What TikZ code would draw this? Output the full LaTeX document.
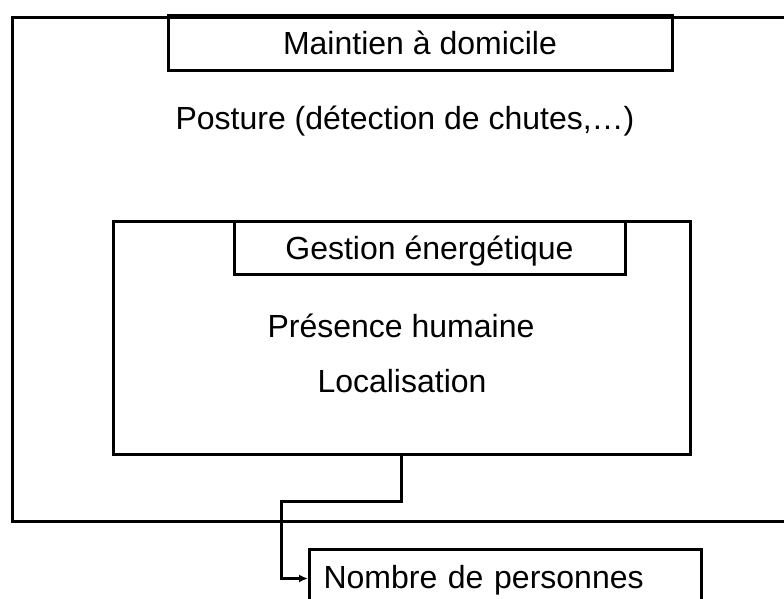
\documentclass[tikz,border=0pt]{standalone}
\usepackage{fontspec}
\setmainfont{Liberation Sans}
\usetikzlibrary{arrows.meta}

\begin{document}
\begin{tikzpicture}[x=1pt,y=-1pt,
  every node/.style={font=\fontsize{32}{38}\selectfont},
  frame/.style={draw,line width=3pt,inner sep=0pt},
  tag/.style={frame,text height=23pt,text depth=0pt}]
\useasboundingbox (0,0) rectangle (784,599);
\clip (0,0) rectangle (784,599);
% Outer frame (runs off the right edge)
\node[frame,anchor=north west,minimum width=800pt,minimum height=504pt] (domicile) at (11,16) {};
\node[tag,minimum width=504pt,minimum height=55pt] (maintien) at (420,43.5) {Maintien à domicile};
\node[anchor=base] (posture) at (405,130) {Posture (détection de chutes,…)};
% Inner frame
\node[frame,minimum width=577pt,minimum height=233pt] (zone) at (401.5,337.5) {};
\node[tag,minimum width=391pt,minimum height=53pt] (gestion) at (429.5,247.5) {Gestion énergétique};
\node[anchor=base] (presence) at (401,337) {Présence humaine};
\node[anchor=base] (localisation) at (402,392) {Localisation};
% Output box (cut by the bottom edge)
\node[frame,anchor=north west,inner xsep=14pt,inner ysep=16pt,text width=364pt,align=left,
  text height=23pt,text depth=3pt] (nombre) at (308,548) {Nombre de personnes};
% Connector
\coordinate (bend) at (281,501);
\draw[line width=3pt,-{Latex[length=9pt,width=8pt]}] (zone.south) |- (bend) |- (nombre.west);
\end{tikzpicture}
\end{document}
